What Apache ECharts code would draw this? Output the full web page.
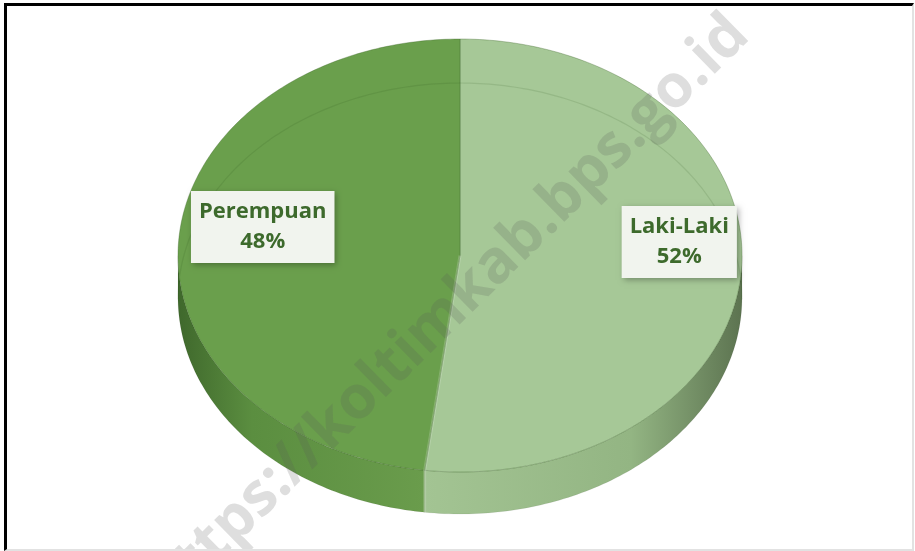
<!DOCTYPE html>
<html lang="id">
<head>
<meta charset="UTF-8">
<title>Jenis Kelamin</title>
<script src="https://cdn.jsdelivr.net/npm/echarts@6.0.0/dist/echarts.min.js"></script>
<style>
    html, body { margin: 0; padding: 0; background: #fff; }
    #main { position: absolute; left: 0; top: 0; width: 915px; height: 551px; }
    #frame { position: absolute; left: 4px; top: 3px; width: 905px; height: 543px;
        border-top: 3px solid #000; border-left: 3px solid #000;
        border-right: 2px solid #e2e2e2; border-bottom: 2px solid #e2e2e2; pointer-events: none; }
</style>
</head>
<body>
<div id="main"></div>
<div id="frame"></div>
<script>
    var categories = ['Laki-Laki', 'Perempuan'];
    var values = [52, 48];
    var topColors = ['#a6c897', '#6a9f4c'];
    var watermark = 'https://koltimkab.bps.go.id';

    var chartDom = document.getElementById('main');
    var myChart = echarts.init(chartDom);

    // ellipse layout of the "3d" pie
    var cx = 460, cy = 255.5, rx = 282, ry = 216.5, depth = 42;

    var total = values.reduce(function (a, b) { return a + b; }, 0);
    var seriesData = [];
    var acc = 0;
    values.forEach(function (v, i) {
        seriesData.push({ name: categories[i], value: [v, acc] });
        acc += v;
    });

    function pt(deg, dy) {
        var r = deg * Math.PI / 180;
        return [cx + rx * Math.sin(r), cy - ry * Math.cos(r) + (dy || 0)];
    }
    function arc(a0, a1, dy) {
        var pts = [];
        var n = Math.max(2, Math.ceil(Math.abs(a1 - a0)));
        for (var k = 0; k <= n; k++) pts.push(pt(a0 + (a1 - a0) * k / n, dy));
        return pts;
    }

    function renderItem(params, api) {
        var i = params.dataIndex;
        var v = api.value(0), start = api.value(1);
        var a0 = start / total * 360, a1 = (start + v) / total * 360;
        var children = [];

        // front wall
        var s0 = Math.max(a0, 90), s1 = Math.min(a1, 270);
        if (s1 > s0) {
            var up = arc(s0, s1, 0);
            var down = arc(s0, s1, depth).reverse();
            var grad = i === 0
                ? new echarts.graphic.LinearGradient(pt(s1)[0], 0, pt(s0)[0], 0, [
                    { offset: 0, color: '#a3c493' }, { offset: 0.65, color: '#93b583' }, { offset: 1, color: '#5c7350' }], true)
                : new echarts.graphic.LinearGradient(pt(s0)[0], 0, pt(s1)[0], 0, [
                    { offset: 0, color: '#6a9c4c' }, { offset: 0.7, color: '#5b8e40' }, { offset: 1, color: '#3f682c' }], true);
            children.push({
                type: 'polygon', z2: 1,
                shape: { points: up.concat(down) },
                style: { fill: grad, stroke: 'rgba(0,0,0,0.06)', lineWidth: 1 }
            });
        }

        // top face
        children.push({
            type: 'polygon', z2: 2,
            shape: { points: [[cx, cy]].concat(arc(a0, a1, 0)) },
            style: { fill: topColors[i], stroke: 'rgba(60,100,40,0.35)', lineWidth: 1 }
        });

        // light edge along the lower cut
        if (i === 0) {
            var e = pt(a1);
            children.push({
                type: 'polyline', z2: 4,
                shape: { points: [[cx, cy], e, [e[0], e[1] + depth]] },
                style: { fill: null, stroke: 'rgba(255,255,255,0.18)', lineWidth: 3 }
            });
        }

        // bevel line on top face
        var b0 = Math.max(a0, -90), b1 = Math.min(a1, 90);
        var bevel = [];
        if (a1 > 270) bevel = bevel.concat(arc(Math.max(a0, 270), a1, depth + 2));
        if (b1 > b0) bevel = bevel.concat(arc(b0, b1, depth + 2));
        if (bevel.length) {
            children.push({
                type: 'polyline', z2: 3,
                shape: { points: bevel },
                style: { fill: null, stroke: 'rgba(40,80,20,0.13)', lineWidth: 1.2 }
            });
        }

        // label
        var mid = (a0 + a1) / 2;
        var lp = [cx + rx * 0.74 * Math.sin(mid * Math.PI / 180) + 11,
                  cy - ry * 0.55 * Math.cos(mid * Math.PI / 180) - 21];
        children.push({
            type: 'text', z2: 10,
            style: {
                text: categories[i] + '\n' + Math.round(v / total * 100) + '%',
                x: lp[0], y: lp[1], align: 'center', verticalAlign: 'middle',
                font: 'bold 22px "Open Sans"', lineHeight: 30,
                fill: '#3d6a2c', backgroundColor: '#f1f4ee', padding: [6, 8],
                shadowBlur: 6, shadowColor: 'rgba(0,0,0,0.3)', shadowOffsetX: 2, shadowOffsetY: 2
            }
        });

        return { type: 'group', children: children };
    }

    var option = {
        animation: false,
        series: [{
            type: 'custom',
            coordinateSystem: 'none',
            renderItem: renderItem,
            data: seriesData
        }],
        graphic: [{
            type: 'text', z: 100,
            x: 448, y: 312, rotation: 44.5 * Math.PI / 180,
            style: {
                text: watermark, align: 'center', verticalAlign: 'middle',
                font: 'bold 60px "Open Sans"', fill: 'rgba(90,90,90,0.2)'
            }
        }]
    };

    myChart.setOption(option);
    window.addEventListener('resize', function () {
        myChart.resize();
    });
</script>
</body>
</html>
